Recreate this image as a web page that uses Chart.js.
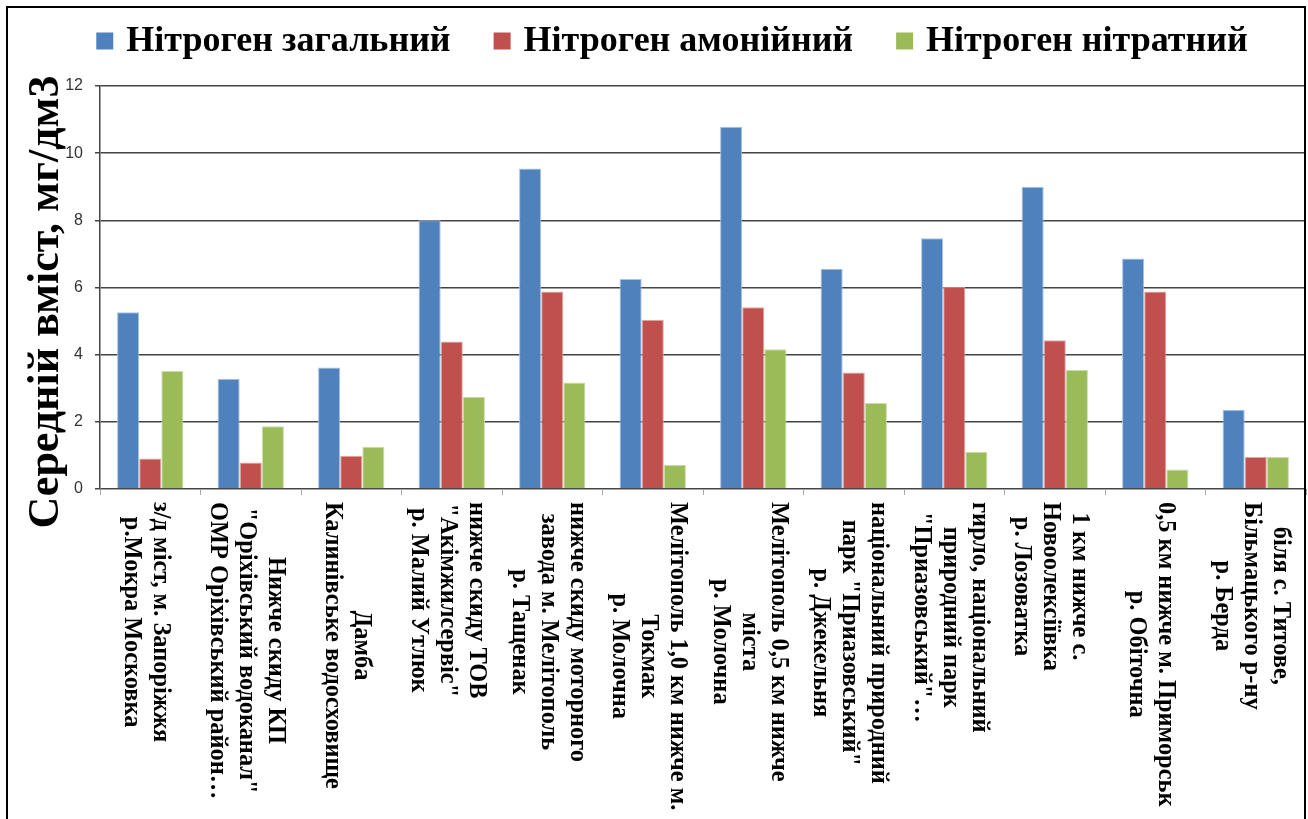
<!DOCTYPE html>
<html lang="uk">
<head>
<meta charset="utf-8">
<title>Середній вміст нітрогену</title>
<script src="https://cdn.jsdelivr.net/npm/chart.js@4.4.0/dist/chart.umd.min.js"></script>
<style>
  html, body { margin: 0; padding: 0; background: #fff; overflow: hidden; }
  #wrap { position: relative; width: 1308px; height: 819px; }
  #frame {
    position: absolute; left: 6px; top: 6px; width: 1296px; height: 900px;
    border: 2px solid #000; pointer-events: none;
  }
</style>
</head>
<body>
<div id="wrap">
  <canvas id="nitrogenChart"></canvas>
  <div id="frame"></div>
</div>
<script>
// Data
const categoryLines = [
    ['з/д міст, м. Запоріжжя', 'р.Мокра Московка'],
    ['Нижче скиду КП', '"Оріхівський водоканал"', 'ОМР Оріхівський район…'],
    ['Дамба', 'Калинівське водосховище'],
    ['нижче скиду ТОВ', '"Акімжилсервіс"', 'р. Малий Утлюк'],
    ['нижче скиду моторного', 'завода м. Мелітополь', 'р. Тащенак'],
    ['Мелітополь 1,0 км нижче м.', 'Токмак', 'р. Молочна'],
    ['Мелітополь 0,5 км нижче', 'міста', 'р. Молочна'],
    ['національний природний', 'парк "Приазовський"', 'р. Джекельня'],
    ['гирло, національний', 'природний парк', '"Приазовський"…'],
    ['1 км нижче с.', 'Новоолексіївка', 'р. Лозоватка'],
    ['0,5 км нижче м. Приморськ', 'р. Обіточна'],
    ['біля с. Титове,', 'Більмацького р-ну', 'р. Берда']
];
const seriesNames = ['Нітроген загальний', 'Нітроген амонійний', 'Нітроген нітратний'];
const totalN    = [5.26, 3.28, 3.62, 8.00, 9.54, 6.25, 10.79, 6.56, 7.47, 9.00, 6.86, 2.36];
const ammoniumN = [0.91, 0.79, 0.99, 4.39, 5.88, 5.04, 5.41, 3.47, 6.02, 4.43, 5.88, 0.95];
const nitrateN  = [3.51, 1.87, 1.26, 2.75, 3.17, 0.72, 4.16, 2.56, 1.11, 3.54, 0.58, 0.95];
const yAxisTitle = 'Середній вміст, мг/дм3';

const COLORS = ['#4F81BD', '#C0504D', '#9BBB59'];
const EDGES  = ['#a9c1e2', '#dfa9a7', '#cadca9'];
const SERIF = '"Liberation Serif", "Times New Roman", serif';

// custom drawing: rotated multi-line category labels, y title, legend
const decorPlugin = {
    id: 'decor',
    afterDraw(chart) {
        const ctx = chart.ctx;
        const xs = chart.scales.x;

        // category labels, rotated clockwise
        ctx.save();
        ctx.fillStyle = '#000';
        ctx.font = 'bold 24.4px ' + SERIF;
        ctx.textAlign = 'center';
        ctx.textBaseline = 'middle';
        categoryLines.forEach((lines, i) => {
            const cx = xs.getPixelForValue(i) - 4;
            const maxW = Math.max(...lines.map(l => ctx.measureText(l).width));
            const midY = xs.top + 13 + maxW / 2;
            lines.forEach((line, j) => {
                const lx = cx + ((lines.length - 1) / 2 - j) * 29;
                ctx.save();
                ctx.translate(lx, midY);
                ctx.rotate(Math.PI / 2);
                ctx.fillText(line, 0, 0);
                ctx.restore();
            });
        });
        ctx.restore();

        // y axis title
        ctx.save();
        ctx.fillStyle = '#000';
        ctx.font = 'bold 44px ' + SERIF;
        ctx.textAlign = 'center';
        ctx.textBaseline = 'alphabetic';
        ctx.translate(58, 302);
        ctx.rotate(-Math.PI / 2);
        ctx.fillText(yAxisTitle, 0, 0);
        ctx.restore();

        // legend
        ctx.save();
        ctx.font = 'bold 36px ' + SERIF;
        ctx.textBaseline = 'middle';
        ctx.textAlign = 'left';
        const box = 17, gap = 13, itemGap = 43;
        const ds = chart.data.datasets;
        const widths = ds.map(d => ctx.measureText(d.label).width);
        const total = widths.reduce((a, w) => a + box + gap + w, 0) + itemGap * (ds.length - 1);
        let x = 672 - total / 2;
        const y = 41;
        ds.forEach((d, i) => {
            ctx.fillStyle = d.backgroundColor;
            ctx.fillRect(x, y - box / 2, box, box);
            ctx.fillStyle = '#000';
            ctx.fillText(d.label, x + box + gap, y + 1);
            x += box + gap + widths[i] + itemGap;
        });
        ctx.restore();
    }
};

function makeDataset(label, data, i) {
    return {
        label,
        data,
        backgroundColor: COLORS[i],
        borderColor: EDGES[i],
        borderWidth: 1,
        barPercentage: 1,
        categoryPercentage: 0.66
    };
}

const ctx = document.getElementById('nitrogenChart').getContext('2d');
new Chart(ctx, {
    type: 'bar',
    data: {
        labels: categoryLines.map(l => l.join(' ')),
        datasets: [
            makeDataset(seriesNames[0], totalN, 0),
            makeDataset(seriesNames[1], ammoniumN, 1),
            makeDataset(seriesNames[2], nitrateN, 2)
        ]
    },
    options: {
        responsive: true,
        maintainAspectRatio: false,
        animation: false,
        layout: { padding: { top: 86, right: 2, left: 0, bottom: 0 } },
        plugins: {
            legend: { display: false },
            tooltip: { enabled: false }
        },
        scales: {
            x: {
                offset: true,
                grid: {
                    offset: true,
                    drawOnChartArea: false,
                    color: '#a6a6a6',
                    tickLength: 6
                },
                border: { color: '#a6a6a6', width: 1 },
                ticks: { display: false },
                afterFit(scale) { scale.height = 330; }
            },
            y: {
                min: 0,
                max: 12,
                ticks: {
                    stepSize: 2,
                    padding: 12,
                    color: '#333',
                    font: { family: '"Liberation Sans", Arial, sans-serif', size: 16 }
                },
                grid: { color: '#444', lineWidth: 1.5, tickLength: 5 },
                border: { color: '#444', width: 1.5 },
                afterFit(scale) { scale.width = 100; }
            }
        }
    },
    plugins: [decorPlugin]
});
</script>
</body>
</html>
